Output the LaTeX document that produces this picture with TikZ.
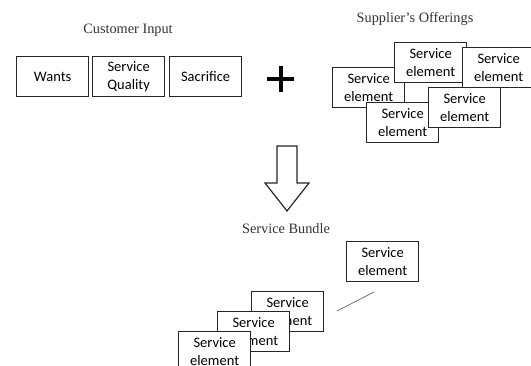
\documentclass[tikz,border=0pt]{standalone}
\usepackage{fontspec}
\setmainfont{Liberation Serif}
\newfontfamily\boxfont{Carlito}
\begin{document}
\begin{tikzpicture}[x=1pt,y=-1pt,
  elem/.style={draw=black!85, line width=1.3pt, fill=white, anchor=north west,
    minimum width=72pt, minimum height=40pt, inner sep=0pt, align=center,
    font=\boxfont\fontsize{14.5}{17.5}\selectfont},
  caption/.style={font=\fontsize{14.3}{16}\selectfont, text=black!80, inner sep=0pt}]
  \useasboundingbox (0,0) rectangle (531,366);
  \clip (0,0) rectangle (531,366);

  % customer input
  \node[caption] (cin) at (128,30) {Customer Input};
  \node[elem] (wants) at (16,56) {Wants};
  \node[elem] (quality) at (92,56) {Service\\Quality};
  \node[elem] (sacrifice) at (169,56) {Sacrifice};

  % plus sign
  \fill[black] (267,77) rectangle (294,81);
  \fill[black] (279,66) rectangle (283,92);

  % supplier's offerings
  \node[caption] (sup) at (415,19) {Supplier’s Offerings};
  \node[elem] (o3) at (332,67) {Service\\element};
  \node[elem] (o1) at (394,42) {Service\\element};
  \node[elem] (o2) at (462,47) {Service\\element};
  \node[elem] (o5) at (366,102) {Service\\element};
  \node[elem] (o4) at (428,87) {Service\\element};

  % block arrow
  \draw[black!85, line width=1.2pt, line join=miter, fill=white]
    (277,146) -- (297,146) -- (297,183) -- (309,183) -- (287,211)
    -- (265,183) -- (277,183) -- cycle;

  % service bundle
  \node[caption] (bundle) at (286,229) {Service Bundle};
  \node[elem] (b0) at (346,241) {Service\\element};
  \node[elem] (b1) at (251,291) {Service\\element};
  \node[elem] (b2) at (217,311) {Service\\element};
  \node[elem] (b3) at (178,331) {Service\\element};
  \coordinate (g1) at (337,311);
  \coordinate (g2) at (374,292);
  \draw[black!60, line width=0.7pt] (g1) -- (g2);
\end{tikzpicture}
\end{document}
